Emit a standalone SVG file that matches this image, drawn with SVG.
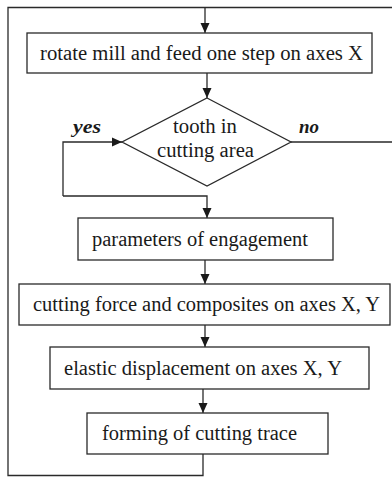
<svg xmlns="http://www.w3.org/2000/svg" width="392" height="477" viewBox="0 0 392 477">
<defs>
<marker id="ah" markerWidth="10" markerHeight="10" refX="10" refY="5" orient="auto" markerUnits="userSpaceOnUse"><path d="M0,0.5 L10,5 L0,9.5 Z" fill="#1a1a1a"/></marker>
<style>
.box{fill:#fff;stroke:#2a2a2a;stroke-width:1.3}
.ln{fill:none;stroke:#2a2a2a;stroke-width:1.3}
.t{font-family:"Liberation Serif","Times New Roman",serif;font-size:20px;fill:#1a1a1a}
.lb{font-family:"Liberation Serif","Times New Roman",serif;font-size:18px;font-weight:bold;font-style:italic;fill:#1a1a1a}
</style>
</defs>
<rect width="392" height="477" fill="#fff"/>
<g id="connectors">
<path class="ln" d="M203,454 V475.5 H8 V7.5 H396"/>
<path class="ln" d="M291,142 H396 V7.5"/>
<path class="ln" d="M205,7.5 V33" marker-end="url(#ah)"/>
<path class="ln" d="M207,73 V98" marker-end="url(#ah)"/>
<path class="ln" d="M63,196 V142 H122" marker-end="url(#ah)"/>
<path class="ln" d="M63,196 H207 V218" marker-end="url(#ah)"/>
<path class="ln" d="M205,260 V284" marker-end="url(#ah)"/>
<path class="ln" d="M205,325 V347" marker-end="url(#ah)"/>
<path class="ln" d="M203,389 V413" marker-end="url(#ah)"/>
</g>
<g id="n1"><rect class="box" x="27" y="33" width="345" height="40"/><text class="t" x="40" y="59.5" textLength="323" lengthAdjust="spacingAndGlyphs">rotate mill and feed one step on axes X</text></g>
<g id="n2"><polygon class="box" points="207,98 291,142 207,186 122,142"/><text class="t" x="173" y="133" textLength="64" lengthAdjust="spacingAndGlyphs">tooth in</text><text class="t" x="157" y="157" textLength="97" lengthAdjust="spacingAndGlyphs">cutting area</text></g>
<g id="lbl-yes"><text class="lb" x="73" y="133" textLength="28" lengthAdjust="spacingAndGlyphs">yes</text></g>
<g id="lbl-no"><text class="lb" x="299" y="133" textLength="20" lengthAdjust="spacingAndGlyphs">no</text></g>
<g id="n3"><rect class="box" x="78" y="218" width="255" height="42"/><text class="t" x="92" y="245.5" textLength="216" lengthAdjust="spacingAndGlyphs">parameters of engagement</text></g>
<g id="n4"><rect class="box" x="19" y="284" width="371" height="41"/><text class="t" x="33" y="311" textLength="347" lengthAdjust="spacingAndGlyphs">cutting force and composites on axes X, Y</text></g>
<g id="n5"><rect class="box" x="50" y="347" width="319" height="42"/><text class="t" x="64" y="375" textLength="278" lengthAdjust="spacingAndGlyphs">elastic displacement on axes X, Y</text></g>
<g id="n6"><rect class="box" x="87" y="413" width="241" height="41"/><text class="t" x="102" y="440" textLength="195" lengthAdjust="spacingAndGlyphs">forming of cutting trace</text></g>
</svg>
